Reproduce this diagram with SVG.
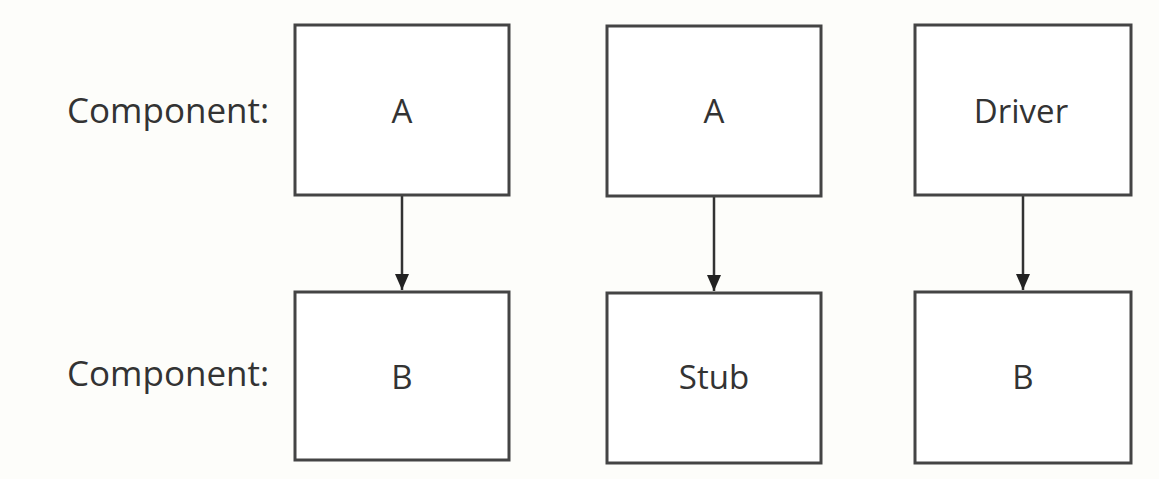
<svg xmlns="http://www.w3.org/2000/svg" width="1159" height="479" viewBox="0 0 1159 479">
<defs>
<marker id="ah" markerWidth="16" markerHeight="16" refX="16" refY="8" orient="auto" markerUnits="userSpaceOnUse" viewBox="0 0 16 16">
<path d="M0,1 L16,8 L0,15 z" fill="#222"/>
</marker>
</defs>
<style>
.box{fill:#fff;stroke:#444;stroke-width:3}
.t{font-family:"Open Sans","Noto Sans",sans-serif;font-size:33px;fill:#333;text-anchor:middle}
.lbl{font-family:"Open Sans","Noto Sans",sans-serif;font-size:35px;fill:#333}
.c{stroke:#333;stroke-width:2.5;fill:none;marker-end:url(#ah)}
</style>
<rect width="1159" height="479" fill="#fdfdfa"/>
<text class="lbl" x="67" y="123">Component:</text>
<text class="lbl" x="67" y="386">Component:</text>
<g id="connectors">
<line class="c" x1="402" y1="196" x2="402" y2="290"/>
<line class="c" x1="714" y1="197" x2="714" y2="291"/>
<line class="c" x1="1023" y1="196" x2="1023" y2="290"/>
</g>
<g id="nodeA1"><rect class="box" x="295" y="25" width="214" height="170"/><text class="t" x="402" y="123">A</text></g>
<g id="nodeB1"><rect class="box" x="295" y="292" width="214" height="168"/><text class="t" x="402" y="389">B</text></g>
<g id="nodeA2"><rect class="box" x="607" y="26" width="214" height="170"/><text class="t" x="714" y="123">A</text></g>
<g id="nodeStub"><rect class="box" x="607" y="293" width="214" height="170"/><text class="t" x="714" y="389">Stub</text></g>
<g id="nodeDriver"><rect class="box" x="915" y="25" width="216" height="170"/><text class="t" x="1021" y="123">Driver</text></g>
<g id="nodeB2"><rect class="box" x="915" y="292" width="216" height="171"/><text class="t" x="1023" y="389">B</text></g>
</svg>
